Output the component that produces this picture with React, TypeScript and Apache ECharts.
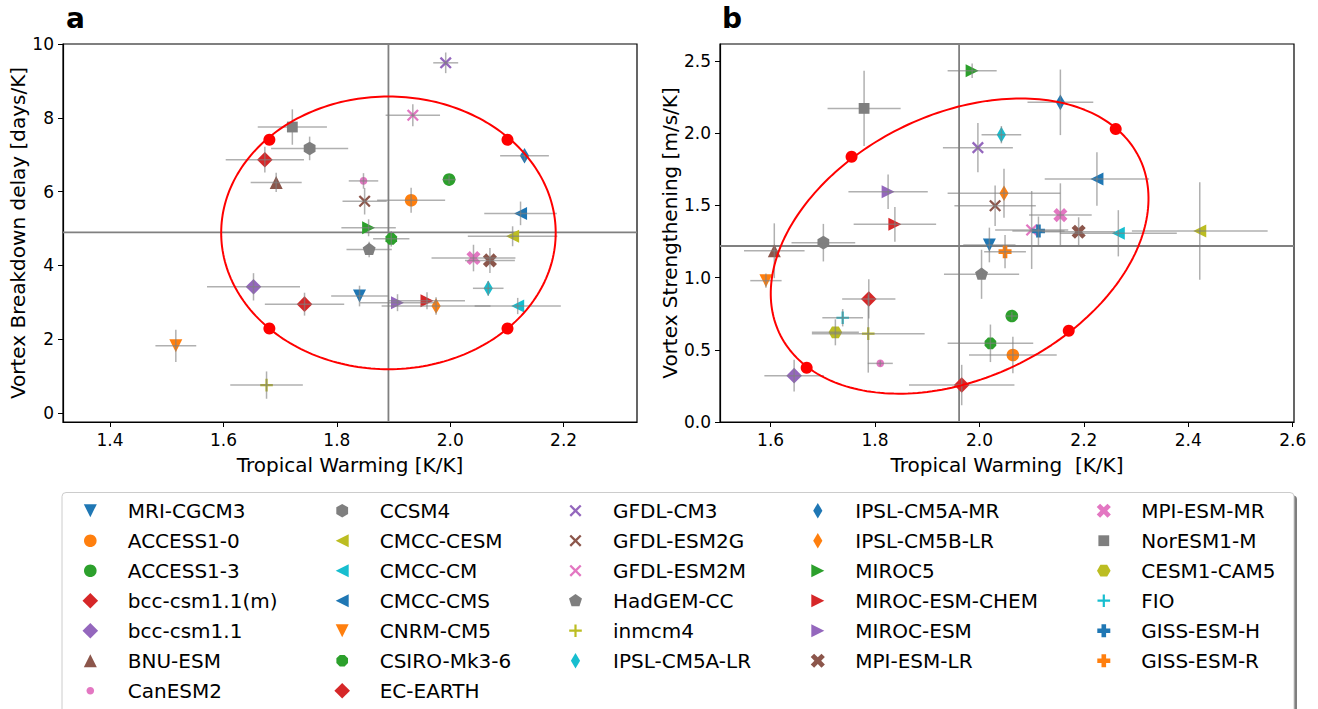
import React, { useEffect, useRef } from "react";
import * as echarts from "echarts";

// ---------------- data ----------------
const MODELS = [
  "MRI-CGCM3", "ACCESS1-0", "ACCESS1-3", "bcc-csm1.1(m)", "bcc-csm1.1", "BNU-ESM", "CanESM2",
  "CCSM4", "CMCC-CESM", "CMCC-CM", "CMCC-CMS", "CNRM-CM5", "CSIRO-Mk3-6", "EC-EARTH",
  "GFDL-CM3", "GFDL-ESM2G", "GFDL-ESM2M", "HadGEM-CC", "inmcm4", "IPSL-CM5A-LR",
  "IPSL-CM5A-MR", "IPSL-CM5B-LR", "MIROC5", "MIROC-ESM-CHEM", "MIROC-ESM", "MPI-ESM-LR",
  "MPI-ESM-MR", "NorESM1-M", "CESM1-CAM5", "FIO", "GISS-ESM-H", "GISS-ESM-R",
];

// panel a: Tropical warming vs vortex breakdown delay (null = model not shown)
const A_X = [1.840, 1.931, 1.998, 1.673, 1.653, 1.693, 1.847, 1.752, 2.110, 2.119, 2.124, 1.516, 1.896, 1.743,
  1.992, 1.849, 1.934, 1.857, 1.676, 2.067, 2.131, 1.975, 1.856, 1.959, 1.907, 2.070, 2.041, 1.7215, null, null, null, null];
const A_Y = [3.17, 5.765, 6.325, 6.865, 3.42, 6.25, 6.29, 7.17, 4.79, 2.90, 5.41, 1.82, 4.72, 2.95,
  9.49, 5.74, 8.07, 4.43, 0.757, 3.38, 6.97, 2.90, 5.02, 3.04, 2.99, 4.135, 4.20, 7.75, null, null, null, null];
const A_XERR = [0.05, 0.06, 0.012, 0.069, 0.082, 0.045, 0.026, 0.068, 0.079, 0.076, 0.064, 0.036, 0.032, 0.07,
  0.022, 0.039, 0.048, 0.04, 0.064, 0.027, 0.043, 0.096, 0.048, 0.067, 0.066, 0.044, 0.074, 0.061, null, null, null, null];
const A_YERR = [0.28, 0.34, 0.12, 0.35, 0.37, 0.26, 0.21, 0.32, 0.27, 0.22, 0.32, 0.44, 0.21, 0.31,
  0.28, 0.36, 0.30, 0.21, 0.37, 0.20, 0.15, 0.24, 0.23, 0.23, 0.23, 0.34, 0.36, 0.48, null, null, null, null];

// panel b: Tropical warming vs vortex strengthening
const B_X = [2.019, 2.064, 2.062, 1.788, 1.645, 1.607, 1.810, 1.701, 2.422, 2.266, 2.225, 1.591, 2.021, 1.966,
  1.997, 2.030, 2.100, 2.004, 1.787, 2.042, 2.155, 2.047, 1.986, 1.838, 1.825, 2.190, 2.155, 1.779, 1.724, 1.738, 2.113, 2.049];
const B_Y = [1.226, 0.464, 0.734, 0.852, 0.321, 1.186, 0.406, 1.242, 1.323, 1.307, 1.683, 0.979, 0.545, 0.256,
  1.90, 1.498, 1.33, 1.023, 0.612, 1.99, 2.214, 1.584, 2.433, 1.369, 1.595, 1.318, 1.433, 2.172, 0.621, 0.722, 1.323, 1.18];
const B_XERR = [0.05, 0.084, 0.012, 0.051, 0.057, 0.058, 0.024, 0.061, 0.13, 0.112, 0.10, 0.03, 0.082, 0.101,
  0.067, 0.078, 0.07, 0.072, 0.108, 0.038, 0.063, 0.108, 0.047, 0.079, 0.076, 0.07, 0.06, 0.07, 0.045, 0.039, 0.05, 0.04];
const B_YERR = [0.12, 0.127, 0.03, 0.136, 0.11, 0.19, 0.02, 0.13, 0.337, 0.16, 0.186, 0.05, 0.13, 0.14,
  0.17, 0.14, 0.27, 0.17, 0.27, 0.06, 0.227, 0.17, 0.05, 0.12, 0.12, 0.10, 0.22, 0.26, 0.09, 0.06, 0.10, 0.115];

// reference lines (multi-model means)
const A_REF_X = 1.891;
const A_REF_Y = 4.895;
const B_REF_X = 1.961;
const B_REF_Y = 1.219;

// ellipses: centre + two conjugate semi-axis vectors
const A_ELLIPSE = { cx: 1.891, cy: 4.883, ux: 0.295, uy: 0, vx: 0, vy: 3.695 };
const B_ELLIPSE = { cx: 1.962, cy: 1.2185, ux: 0.3564, uy: 0.158, vx: 0.0622, vy: 1.01 };

// red dots on the ellipses
const A_DOTS_X = [1.681, 2.101, 1.681, 2.101];
const A_DOTS_Y = [7.405, 7.405, 2.289, 2.289];
const B_DOTS_X = [2.261, 1.755, 1.669, 2.171];
const B_DOTS_Y = [2.029, 1.837, 0.376, 0.632];

// axis ticks
const A_TICKS_X = [1.4, 1.6, 1.8, 2.0, 2.2];
const A_TICKS_Y = [0, 2, 4, 6, 8, 10];
const B_TICKS_X = [1.6, 1.8, 2.0, 2.2, 2.4, 2.6];
const B_TICKS_Y = [0, 0.5, 1.0, 1.5, 2.0, 2.5];
const A_RANGE = { xmin: 1.317, xmax: 2.3294, ymin: -0.243, ymax: 10 };
const B_RANGE = { xmin: 1.503, xmax: 2.6025, ymin: 0, ymax: 2.618 };

// ---------------- styles ----------------
const TAB = ["#1f77b4", "#ff7f0e", "#2ca02c", "#d62728", "#9467bd", "#8c564b", "#e377c2", "#7f7f7f", "#bcbd22", "#17becf"];
const FONT = "DejaVu Sans";

const ANCHOR = "M0 0M20 20";
const f2 = (n: number) => n.toFixed(2);
function poly(pts: number[][]) {
  return "path://" + ANCHOR + "M" + pts.map((p) => f2(p[0]) + " " + f2(p[1])).join("L") + "Z";
}
function regular(n: number, r: number, rot: number) {
  const pts: number[][] = [];
  for (let k = 0; k < n; k++) {
    const a = ((rot + (360 * k) / n) * Math.PI) / 180;
    pts.push([10 + r * Math.cos(a), 10 - r * Math.sin(a)]);
  }
  return poly(pts);
}
function circ(r: number) {
  const k = 0.5523 * r;
  const c = 10;
  return (
    "path://" + ANCHOR +
    `M${f2(c + r)} ${c}C${f2(c + r)} ${f2(c + k)} ${f2(c + k)} ${f2(c + r)} ${c} ${f2(c + r)}` +
    `C${f2(c - k)} ${f2(c + r)} ${f2(c - r)} ${f2(c + k)} ${f2(c - r)} ${c}` +
    `C${f2(c - r)} ${f2(c - k)} ${f2(c - k)} ${f2(c - r)} ${c} ${f2(c - r)}` +
    `C${f2(c + k)} ${f2(c - r)} ${f2(c + r)} ${f2(c - k)} ${f2(c + r)} ${c}Z`
  );
}
function cross(L: number, t: number, rotDeg: number) {
  const base = [[t, t], [t, L], [-t, L], [-t, t], [-L, t], [-L, -t], [-t, -t], [-t, -L], [t, -L], [t, -t], [L, -t], [L, t]];
  const a = (rotDeg * Math.PI) / 180;
  const ca = Math.cos(a), sa = Math.sin(a);
  return poly(base.map(([x, y]) => [10 + x * ca - y * sa, 10 + x * sa + y * ca]));
}

const SYM = {
  triDown: poly([[3.5, 3.5], [16.5, 3.5], [10, 16.5]]),
  triUp: poly([[10, 3.5], [16.5, 16.5], [3.5, 16.5]]),
  triLeft: poly([[3.5, 10], [16.5, 3.5], [16.5, 16.5]]),
  triRight: poly([[16.5, 10], [3.5, 3.5], [3.5, 16.5]]),
  circle: circ(6.3),
  small: circ(3.8),
  octagon: regular(8, 6.3, 22.5),
  diamond: poly([[10, 2.2], [17.8, 10], [10, 17.8], [2.2, 10]]),
  thinDiamond: poly([[10, 2.2], [14.6, 10], [10, 17.8], [5.4, 10]]),
  square: poly([[4.6, 4.6], [15.4, 4.6], [15.4, 15.4], [4.6, 15.4]]),
  pentagon: regular(5, 6.8, 90),
  hexPointy: regular(6, 6.8, 90),
  hexFlat: regular(6, 6.8, 0),
  xThin: cross(7.4, 1.15, 45),
  plusThin: cross(6.3, 1.1, 0),
  xFilled: cross(7.6, 2.4, 45),
  plusFilled: cross(6.5, 2.3, 0),
};

const MARKERS = [
  SYM.triDown, SYM.circle, SYM.circle, SYM.diamond, SYM.diamond, SYM.triUp, SYM.small,
  SYM.hexPointy, SYM.triLeft, SYM.triLeft, SYM.triLeft, SYM.triDown, SYM.octagon, SYM.diamond,
  SYM.xThin, SYM.xThin, SYM.xThin, SYM.pentagon, SYM.plusThin, SYM.thinDiamond,
  SYM.thinDiamond, SYM.thinDiamond, SYM.triRight, SYM.triRight, SYM.triRight, SYM.xFilled,
  SYM.xFilled, SYM.square, SYM.hexFlat, SYM.plusThin, SYM.plusFilled, SYM.plusFilled,
];

const LEGEND_COLS = [[0, 7], [7, 14], [14, 20], [20, 26], [26, 32]];
const LEGEND_LEFT = [80.3, 332.2, 565.5, 807.8, 1093.8];

function ellipsePoints(e: { cx: number; cy: number; ux: number; uy: number; vx: number; vy: number }) {
  const pts: number[][] = [];
  const n = 240;
  for (let k = 0; k <= n; k++) {
    const t = (2 * Math.PI * k) / n;
    pts.push([e.cx + e.ux * Math.cos(t) + e.vx * Math.sin(t), e.cy + e.uy * Math.cos(t) + e.vy * Math.sin(t)]);
  }
  return pts;
}

function errorBarSeries(p: number, xs: any[], ys: any[], xe: any[], ye: any[]) {
  const data: number[][] = [];
  xs.forEach((x, i) => {
    if (x != null) data.push([x, ys[i], xe[i], ye[i]]);
  });
  return {
    type: "custom",
    xAxisIndex: p,
    yAxisIndex: p,
    z: 3,
    silent: true,
    clip: true,
    data,
    encode: { x: 0, y: 1 },
    renderItem: (params: any, api: any) => {
      const x = api.value(0), y = api.value(1), dx = api.value(2), dy = api.value(3);
      const l = api.coord([x - dx, y]);
      const r = api.coord([x + dx, y]);
      const t = api.coord([x, y + dy]);
      const b = api.coord([x, y - dy]);
      const style = { stroke: "rgba(128,128,128,0.62)", lineWidth: 1.5 };
      return {
        type: "group",
        children: [
          { type: "line", shape: { x1: l[0], y1: l[1], x2: r[0], y2: r[1] }, style },
          { type: "line", shape: { x1: t[0], y1: t[1], x2: b[0], y2: b[1] }, style },
        ],
      };
    },
  };
}

function refLineSeries(p: number, rx: number, ry: number, rng: any) {
  const ls = { color: "#808080", width: 1.8 };
  return [
    {
      type: "line", xAxisIndex: p, yAxisIndex: p, z: 1, silent: true, showSymbol: false, symbol: "none",
      data: [[rx, rng.ymin], [rx, rng.ymax]], lineStyle: ls,
    },
    {
      type: "line", xAxisIndex: p, yAxisIndex: p, z: 1, silent: true, showSymbol: false, symbol: "none",
      data: [[rng.xmin, ry], [rng.xmax, ry]], lineStyle: ls,
    },
  ];
}

function axisPair(p: number, rng: any, tx: number[], ty: number[], xName: string, yName: string, yGap: number, yFmt: (v: number) => string) {
  const isTick = (v: number, arr: number[]) => arr.some((a) => Math.abs(a - v) < 1e-6);
  const x = {
    gridIndex: p, type: "value", min: rng.xmin, max: rng.xmax,
    axisLine: { show: true, onZero: false, lineStyle: { color: "#000", width: 1.2 } },
    axisTick: { show: true, inside: false, length: 5, lineStyle: { color: "#000", width: 1 }, customValues: tx },
    axisLabel: {
      customValues: tx, color: "#000", fontSize: 17, fontFamily: FONT, margin: 9,
      formatter: (v: number) => (isTick(v, tx) ? v.toFixed(1) : ""),
    },
    splitLine: { show: false },
    name: xName, nameLocation: "middle", nameGap: 33,
    nameTextStyle: { color: "#000", fontSize: 20, fontFamily: FONT },
  };
  const y = {
    gridIndex: p, type: "value", min: rng.ymin, max: rng.ymax,
    axisLine: { show: true, onZero: false, lineStyle: { color: "#000", width: 1.2 } },
    axisTick: { show: true, inside: false, length: 5, lineStyle: { color: "#000", width: 1 }, customValues: ty },
    axisLabel: {
      customValues: ty, color: "#000", fontSize: 17, fontFamily: FONT, margin: 9,
      formatter: (v: number) => (isTick(v, ty) ? yFmt(v) : ""),
    },
    splitLine: { show: false },
    name: yName, nameLocation: "middle", nameGap: yGap,
    nameTextStyle: { color: "#000", fontSize: 20, fontFamily: FONT },
  };
  return { x, y };
}

function buildOption() {
  const a = axisPair(0, A_RANGE, A_TICKS_X, A_TICKS_Y, "Tropical Warming [K/K]", "Vortex Breakdown delay [days/K]", 33, (v) => String(Math.round(v)));
  const b = axisPair(1, B_RANGE, B_TICKS_X, B_TICKS_Y, "Tropical Warming  [K/K]", "Vortex Strengthening [m/s/K]", 40, (v) => v.toFixed(1));

  const series: any[] = [];
  series.push(...refLineSeries(0, A_REF_X, A_REF_Y, A_RANGE));
  series.push(...refLineSeries(1, B_REF_X, B_REF_Y, B_RANGE));

  const panels = [
    { p: 0, xs: A_X, ys: A_Y },
    { p: 1, xs: B_X, ys: B_Y },
  ];
  panels.forEach(({ p, xs, ys }) => {
    MODELS.forEach((name, i) => {
      if (xs[i] == null) return;
      series.push({
        type: "scatter", name, xAxisIndex: p, yAxisIndex: p, z: 2, silent: true,
        data: [[xs[i], ys[i]]],
        symbol: MARKERS[i], symbolSize: 20, symbolKeepAspect: true,
        itemStyle: { color: TAB[i % 10], opacity: 1 },
        emphasis: { disabled: true },
      });
    });
  });

  series.push(errorBarSeries(0, A_X, A_Y, A_XERR, A_YERR));
  series.push(errorBarSeries(1, B_X, B_Y, B_XERR, B_YERR));

  [
    { p: 0, e: A_ELLIPSE, dx: A_DOTS_X, dy: A_DOTS_Y },
    { p: 1, e: B_ELLIPSE, dx: B_DOTS_X, dy: B_DOTS_Y },
  ].forEach(({ p, e, dx, dy }) => {
    series.push({
      type: "line", xAxisIndex: p, yAxisIndex: p, z: 4, silent: true, showSymbol: false, symbol: "none",
      data: ellipsePoints(e), lineStyle: { color: "#ff0000", width: 2 },
    });
    series.push({
      type: "scatter", xAxisIndex: p, yAxisIndex: p, z: 5, silent: true,
      data: dx.map((x, k) => [x, dy[k]]), symbol: "circle", symbolSize: 12,
      itemStyle: { color: "#ff0000", opacity: 1 },
    });
  });

  const legends = LEGEND_COLS.map(([s, e], c) => ({
    orient: "vertical", left: LEGEND_LEFT[c], top: 500.7, padding: 0,
    itemWidth: 65, itemHeight: 20, itemGap: 10, selectedMode: false, symbolKeepAspect: true,
    data: MODELS.slice(s, e),
    textStyle: { color: "#000", fontSize: 20, fontFamily: FONT },
  }));

  return {
    animation: false,
    backgroundColor: "#ffffff",
    textStyle: { fontFamily: FONT },
    title: [
      { text: "a", left: 66, top: 4, padding: 0, textStyle: { fontSize: 28, fontWeight: "bold", color: "#000", fontFamily: FONT } },
      { text: "b", left: 722, top: 4, padding: 0, textStyle: { fontSize: 28, fontWeight: "bold", color: "#000", fontFamily: FONT } },
    ],
    grid: [
      { left: 63, top: 44, width: 574, height: 378, show: true, borderColor: "#000", borderWidth: 1.2, containLabel: false },
      { left: 720, top: 44, width: 574, height: 378, show: true, borderColor: "#000", borderWidth: 1.2, containLabel: false },
    ],
    xAxis: [a.x, b.x],
    yAxis: [a.y, b.y],
    legend: legends,
    graphic: [
      { type: "rect", z: 0, shape: { x: 65, y: 495.5, width: 1232, height: 230, r: 4 }, style: { fill: "rgba(0,0,0,0.5)" }, silent: true },
      { type: "rect", z: 1, shape: { x: 62, y: 492.5, width: 1232, height: 230, r: 4 }, style: { fill: "#ffffff", stroke: "#cccccc", lineWidth: 1 }, silent: true },
    ],
    series,
  };
}

export default function App() {
  const ref = useRef<HTMLDivElement>(null);
  useEffect(() => {
    const chart = echarts.init(ref.current as HTMLDivElement, undefined, { renderer: "svg" });
    chart.setOption(buildOption() as any);
    return () => chart.dispose();
  }, []);
  return (
    <div
      ref={ref}
      style={{ position: "fixed", left: 0, top: 0, width: 1318, height: 709, background: "#ffffff" }}
    />
  );
}
